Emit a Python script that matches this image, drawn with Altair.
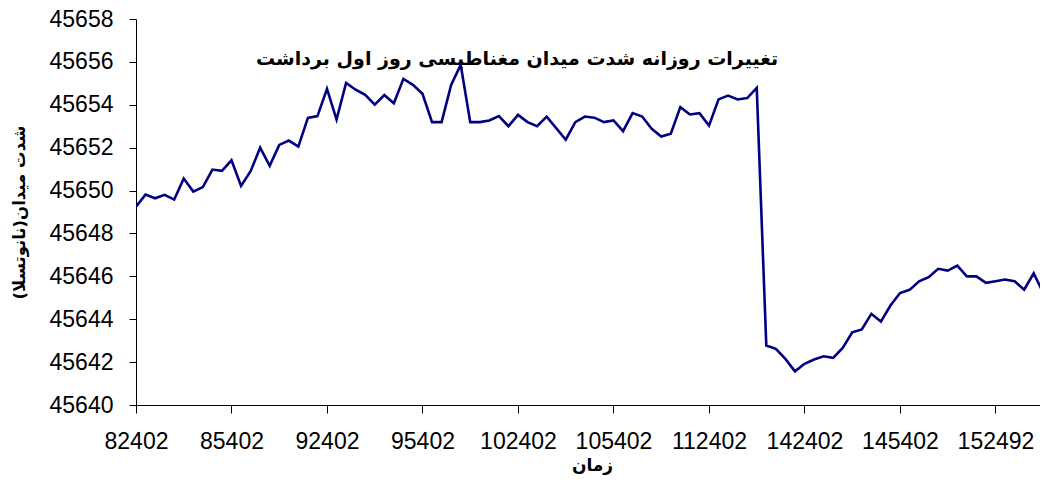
import altair as alt
import pandas as pd

# Magnetic field readings (nT), one every 3 minutes
values = [
    45649.25, 45649.81, 45649.64, 45649.80, 45649.58, 45650.56, 45649.95, 45650.16, 45650.98, 45650.92,
    45651.41, 45650.22, 45650.90, 45652.00, 45651.15, 45652.13, 45652.33, 45652.05, 45653.39, 45653.47,
    45654.74, 45653.31, 45655.02, 45654.70, 45654.46, 45654.01, 45654.45, 45654.07, 45655.21, 45654.93,
    45654.51, 45653.19, 45653.19, 45654.93, 45655.86, 45653.19, 45653.19, 45653.27, 45653.47, 45653.00,
    45653.53, 45653.19, 45653.00, 45653.45, 45652.91, 45652.37, 45653.19, 45653.45, 45653.40, 45653.19,
    45653.27, 45652.77, 45653.61, 45653.45, 45652.88, 45652.52, 45652.65, 45653.89, 45653.55, 45653.61,
    45653.03, 45654.25, 45654.43, 45654.25, 45654.31, 45654.79, 45642.77, 45642.62, 45642.15, 45641.57,
    45641.92, 45642.12, 45642.27, 45642.20, 45642.66, 45643.39, 45643.52, 45644.25, 45643.89, 45644.64,
    45645.22, 45645.37, 45645.77, 45645.96, 45646.35, 45646.27, 45646.50, 45646.00, 45646.00, 45645.70,
    45645.77, 45645.85, 45645.77, 45645.38, 45646.14, 45645.23, 45645.60,
]
index = list(range(len(values)))

# Time tick labels, one every 10 readings
tick_labels = ["82402", "85402", "92402", "95402", "102402", "105402", "112402", "142402", "145402", "152492"]
tick_positions = [i * 10 for i in range(len(tick_labels))]

y_ticks = list(range(45640, 45659, 2))

title_text = "تغییرات روزانه شدت میدان مغناطیسی روز اول برداشت"
y_title = "شدت میدان(نانوتسلا)"
x_title = "زمان"

df = pd.DataFrame({"idx": index, "value": values})

label_array = "[" + ",".join("'" + t + "'" for t in tick_labels) + "]"

chart = (
    alt.Chart(df)
    .mark_line(color="#000080", strokeWidth=2.6, clip=True)
    .encode(
        x=alt.X(
            "idx:Q",
            scale=alt.Scale(domain=[0, 94.66], nice=False, zero=False),
            axis=alt.Axis(
                values=tick_positions,
                labelExpr=label_array + "[round(datum.value / 10)]",
                title=x_title,
                grid=False,
                tickSize=8,
                labelPadding=17,
                labelFont="Liberation Sans",
                labelFontSize=23,
                labelColor="#000000",
                titleFont="DejaVu Sans",
                titleFontSize=17,
                titleFontWeight="bold",
                titleColor="#000000",
                titlePadding=4,
                titleX=456,
                domainColor="#000000",
                tickColor="#000000",
                labelFlush=False,
                labelOverlap=False,
            ),
        ),
        y=alt.Y(
            "value:Q",
            scale=alt.Scale(domain=[45640, 45658], nice=False, zero=False),
            axis=alt.Axis(
                values=y_ticks,
                format="d",
                title=y_title,
                grid=False,
                tickSize=7,
                labelPadding=16,
                labelFont="Liberation Sans",
                labelFontSize=23,
                labelColor="#000000",
                titleFont="DejaVu Sans",
                titleFontSize=16.5,
                titleFontWeight="bold",
                titleColor="#000000",
                titlePadding=22,
                domainColor="#000000",
                tickColor="#000000",
                labelOverlap=False,
            ),
        ),
    )
    .properties(
        width=904,
        height=386,
        autosize=alt.AutoSizeParams(type="none"),
        padding={"left": 128, "top": 11, "right": 0, "bottom": 71},
        title=alt.TitleParams(
            title_text,
            font="DejaVu Sans",
            fontSize=19,
            fontWeight="bold",
            color="#000000",
            anchor="middle",
            dx=-71,
            dy=65,
        ),
    )
    .configure_view(stroke=None)
)

chart.save("out.html", embed_options={"renderer": "svg", "actions": False})
